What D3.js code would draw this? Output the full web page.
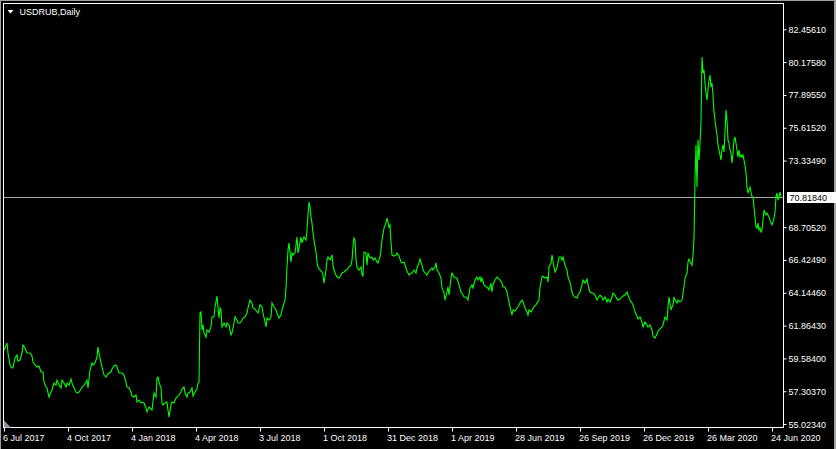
<!DOCTYPE html>
<html><head><meta charset="utf-8">
<script src="https://cdn.jsdelivr.net/npm/d3@7/dist/d3.min.js"></script>
<style>html,body{margin:0;padding:0;background:#000;overflow:hidden}svg{display:block}</style>
</head><body>
<script>
// ---------- data ----------
const symbolTitle = "USDRUB,Daily";
const lastPrice = 70.8184;
// [trading-day index, close]
const closes = [
[0,60.17],[3,60.66],[4,59.96],[6,59.13],[8,58.92],[9,58.92],[11,59.61],[13,59.82],[14,59.40],[16,59.47],[18,59.96],[19,60.52],[21,60.31],[23,59.96],[26,59.96],[28,59.75],[29,59.33],[31,59.13],[33,58.99],[35,59.06],[37,58.64],[39,58.64],[40,57.94],[42,57.60],[43,57.53],[45,56.90],[47,57.25],[48,57.39],[50,57.87],[52,57.73],[53,58.08],[55,57.73],[57,57.53],[58,58.08],[60,57.87],[62,57.60],[63,57.87],[65,57.73],[67,58.15],[68,57.87],[70,57.53],[72,57.25],[73,57.18],[75,57.25],[77,57.46],[78,57.60],[80,57.73],[82,57.94],[83,58.08],[84,57.53],[86,58.78],[88,59.27],[89,59.13],[91,59.27],[93,59.68],[94,60.38],[95,59.96],[97,59.27],[98,58.99],[100,58.43],[102,58.29],[103,58.43],[105,58.57],[107,58.64],[108,58.85],[110,59.06],[112,59.13],[113,58.99],[115,58.57],[117,58.57],[118,58.57],[120,58.43],[122,57.94],[123,57.60],[125,57.53],[127,57.25],[128,56.97],[130,56.90],[132,57.04],[133,56.55],[135,56.69],[137,56.49],[138,56.55],[140,56.49],[142,56.14],[143,55.86],[145,56.21],[147,56.07],[148,56.00],[150,57.18],[152,56.90],[153,58.22],[154,58.29],[155,57.94],[157,57.53],[158,56.49],[159,56.35],[161,56.49],[163,56.55],[164,56.00],[165,55.51],[167,56.35],[168,56.55],[170,56.49],[172,56.83],[173,56.90],[175,57.04],[177,57.25],[178,57.46],[180,57.60],[181,57.18],[183,56.90],[184,57.18],[186,57.25],[188,57.53],[189,56.97],[191,57.25],[193,57.46],[194,57.87],[195,57.90],
[196,62.74],[197,62.81],[198,61.56],[199,61.91],[200,61.35],[202,61.07],[203,61.56],[205,61.42],[207,61.77],[208,62.46],[210,62.46],[211,63.16],[213,63.92],[214,63.09],[215,62.39],[216,63.09],[217,62.95],[218,61.77],[220,62.05],[222,61.77],[223,62.05],[225,61.91],[227,61.21],[228,61.35],[230,62.05],[231,62.46],[233,62.25],[234,62.05],[236,62.05],[238,62.25],[239,62.39],[241,62.46],[243,62.74],[244,63.09],[246,63.64],[248,63.43],[249,63.09],[251,63.02],[253,62.81],[254,62.74],[256,63.30],[258,63.16],[259,62.74],[261,62.12],[262,61.77],[263,62.39],[265,62.25],[267,62.46],[268,63.43],[270,63.16],[272,62.95],[273,62.74],[275,62.39],[277,62.60],[278,62.95],[280,63.43],[281,63.64],[282,64.48],[283,65.94],[284,67.12],[285,67.61],[287,66.28],[288,66.91],[289,66.77],[291,66.91],[293,68.02],[294,66.91],[295,67.26],[297,68.02],[298,67.61],[300,68.02],[302,67.81],[303,68.51],[304,69.55],[305,70.45],[306,70.11],[307,69.41],[308,68.99],[309,68.30],[310,67.81],[312,66.98],[313,66.28],[314,65.94],[316,65.73],[318,65.59],[319,65.38],[320,64.82],[322,65.73],[323,66.42],[324,66.63],[326,66.42],[328,66.77],[329,66.07],[330,65.73],[332,65.38],[333,65.24],[335,65.17],[337,65.38],[338,65.52],[340,65.59],[342,65.73],[343,65.73],[345,65.94],[347,66.07],[348,66.42],[349,67.33],[350,67.95],[351,67.81],[352,66.42],[353,65.94],[355,65.73],[357,65.94],[358,65.38],[359,65.31],[360,66.98],[362,66.91],[363,66.07],[364,66.91],[366,66.56],[368,66.63],[369,66.42],[371,66.56],[373,66.28],[374,66.22],[376,66.63],[377,67.12],[378,67.81],[380,68.64],[382,68.99],[383,69.34],[384,69.06],[385,68.72],[386,68.86],[387,67.67],[388,66.77],[390,66.70],[392,66.77],[393,66.91],[395,66.70],[397,66.28],[398,66.22],[400,66.28],[402,65.87],[403,65.66],[405,65.38],[407,65.52],[408,65.52],[410,65.73],[412,65.52],[413,65.87],[415,66.22],[416,66.49],[418,66.07],[419,65.73],[421,65.52],[423,65.38],[424,65.52],[426,65.73],[428,65.87],[429,65.73],[431,65.94],[432,66.22],[433,65.73],[435,65.52],[437,65.17],[438,64.48],[440,64.13],[441,63.64],[443,64.20],[444,64.55],[445,63.99],[447,65.17],[448,65.52],[450,65.24],[452,65.17],[453,65.17],[455,64.69],[457,64.20],[458,64.13],[460,63.85],[462,63.85],[463,63.78],[464,63.64],[466,64.48],[468,64.69],[469,64.48],[471,65.03],[473,65.24],[474,65.03],[476,65.24],[477,64.89],[478,65.17],[480,64.69],[482,64.55],[483,64.55],[485,64.34],[487,64.82],[488,64.20],[489,64.69],[491,65.03],[493,65.24],[494,65.17],[496,65.03],[498,64.82],[499,64.55],[501,64.55],[503,64.20],[504,63.85],[506,63.16],[508,62.60],[509,62.95],[511,62.88],[513,63.09],[514,63.16],[516,63.43],[518,63.64],[519,63.50],[521,63.09],[523,62.81],[524,62.60],[525,62.95],[527,62.81],[528,62.95],[530,63.16],[532,63.30],[533,63.43],[535,63.64],[536,64.55],[538,65.24],[539,65.31],[541,65.17],[543,65.24],[544,64.89],[545,65.94],[547,66.22],[548,66.77],[550,65.94],[551,65.59],[553,65.87],[554,66.28],[555,66.63],[557,66.63],[558,66.42],[559,66.63],[561,66.07],[563,65.73],[564,65.24],[566,64.89],[568,64.20],[569,63.99],[571,63.85],[573,63.78],[574,63.99],[576,64.20],[578,64.69],[579,65.03],[581,64.82],[583,65.10],[584,64.69],[586,64.20],[588,64.13],[589,64.13],[591,63.99],[593,63.64],[594,63.78],[596,63.99],[598,63.85],[599,63.64],[601,63.85],[603,63.50],[604,63.71],[606,63.50],[608,63.85],[609,64.13],[611,63.99],[613,63.71],[614,63.64],[616,63.71],[618,63.85],[619,63.92],[621,63.99],[623,64.20],[624,63.99],[626,63.64],[628,63.43],[629,63.30],[631,62.81],[633,62.53],[634,62.32],[636,62.46],[638,62.12],[639,61.77],[641,62.12],[643,61.91],[644,61.77],[646,61.91],[648,61.56],[649,61.14],[651,61.00],[653,61.28],[654,61.49],[656,61.63],[658,61.77],[659,61.91],[661,62.46],[663,62.25],[664,63.16],[665,63.85],[667,62.95],[668,63.16],[669,63.30],[670,63.85],[671,63.64],[673,63.43],[674,63.64],[676,63.50],[678,63.64],[679,64.13],[680,64.55],[681,65.17],[683,65.52],[684,66.28],[685,66.49],[687,66.22],[688,66.07],[689,66.77],[690,67.95],
[691,71.98],[692,74.42],[693,71.49],[694,74.76],[695,73.37],[696,74.55],[697,76.00],[698,80.53],[699,79.42],[700,79.63],[701,78.72],[702,78.03],[703,77.54],[704,78.24],[705,78.93],[706,79.28],[707,78.45],[708,78.72],[709,77.89],[710,76.71],[711,76.15],[712,75.60],[713,75.11],[714,74.42],[715,74.07],[716,73.72],[717,73.37],[718,74.07],[719,74.42],[720,73.93],[721,75.32],[722,76.85],[723,76.15],[724,74.76],[725,74.55],[726,74.07],[727,73.86],[728,73.16],[729,73.86],[730,74.76],[731,74.97],[732,74.55],[733,74.07],[734,73.58],[735,74.07],[736,73.58],[737,73.72],[738,73.58],[739,73.72],[740,73.37],[741,73.02],[742,72.47],[743,71.49],[744,71.08],[745,71.29],[746,71.49],[747,71.15],[748,70.80],[749,70.80],[750,70.11],[751,69.41],[752,68.72],[753,68.64],[754,68.99],[755,68.51],[756,68.64],[757,68.37],[758,68.51],[759,69.20],[760,69.90],[761,69.69],[762,69.55],[763,69.69],[764,69.55],[765,69.41],[766,69.20],[767,68.99],[768,68.86],[769,69.06],[770,69.34],[771,69.76],[772,70.80],[773,71.08],[774,70.59],[775,70.80],[776,71.15],[777,70.82]
];
const priceTicks = [82.4561, 80.1758, 77.8955, 75.6152, 73.3349, 68.7052, 66.4249, 64.1446, 61.8643, 59.5840, 57.3037, 55.0234];
const dateTickDays = [0, 64, 128, 192, 256, 320, 384, 448, 512, 576, 640, 704, 768];
const dateTickLabels = ["6 Jul 2017","4 Oct 2017","4 Jan 2018","4 Apr 2018","3 Jul 2018","1 Oct 2018","31 Dec 2018","1 Apr 2019","28 Jun 2019","26 Sep 2019","26 Dec 2019","26 Mar 2020","24 Jun 2020"];

// ---------- layout ----------
const W = 836, H = 449;
const frame = {left: 3.5, top: 3.5, right: 783.5, bottom: 427.5};
const FONT = "'Liberation Sans', Arial, sans-serif";

const svg = d3.select("body").append("svg").attr("width", W).attr("height", H);
svg.append("rect").attr("width", W).attr("height", H).attr("fill", "#000");

// window border
svg.append("line").attr("x1",0).attr("x2",W).attr("y1",0.5).attr("y2",0.5).attr("stroke","#a0a0a0");
svg.append("line").attr("x1",0.5).attr("x2",0.5).attr("y1",0).attr("y2",H).attr("stroke","#a0a0a0");
svg.append("rect").attr("x",W-2).attr("y",0).attr("width",2).attr("height",H).attr("fill","#a0a0a0");

const x = d3.scaleLinear().domain([0, 777]).range([4, 781]);
const y = d3.scaleLinear().domain([54.784, 84.249]).range([frame.bottom, frame.top]);

// frame
svg.append("rect").attr("x",frame.left).attr("y",frame.top)
  .attr("width",frame.right-frame.left).attr("height",frame.bottom-frame.top)
  .attr("fill","none").attr("stroke","#fff").attr("stroke-width",1).attr("shape-rendering","crispEdges");

// shift marker
svg.append("path").attr("d", `M${frame.left+0.5},${frame.bottom-7} L${frame.left+0.5},${frame.bottom} L${frame.left+7.5},${frame.bottom} Z`)
  .attr("fill","#8a9099");

// price line (current bid)
svg.append("line").attr("x1",frame.left).attr("x2",frame.right)
  .attr("y1",Math.round(y(lastPrice))+0.5).attr("y2",Math.round(y(lastPrice))+0.5)
  .attr("stroke","#a8a8a8").attr("stroke-width",1);

// series line
const line = d3.line().x(d => x(d[0])).y(d => y(d[1]));
svg.append("path").datum(closes).attr("d", line)
  .attr("fill","none").attr("stroke","#00ff00").attr("stroke-width",1.1)
  .attr("stroke-linejoin","miter");

// right price axis
const yAxis = d3.axisRight(y).tickValues(priceTicks).tickSize(3).tickPadding(2)
  .tickFormat(d => d3.format(".5f")(d));
const gy = svg.append("g").attr("transform",`translate(${frame.right},0)`).call(yAxis);
gy.select(".domain").remove();
gy.selectAll(".tick line").attr("stroke","#fff");
gy.selectAll(".tick text").attr("fill","#fff").attr("font-family",FONT).attr("font-size","9px")
  .attr("dy","0.33em");

// bottom date axis
const xAxis = d3.axisBottom(x).tickValues(dateTickDays).tickSize(4).tickPadding(2)
  .tickFormat((d,i) => dateTickLabels[i]);
const gx = svg.append("g").attr("transform",`translate(0,${frame.bottom})`).call(xAxis);
gx.select(".domain").remove();
gx.selectAll(".tick line").attr("stroke","#fff");
gx.selectAll(".tick text").attr("fill","#fff").attr("font-family",FONT).attr("font-size","9px")
  .attr("text-anchor","start").attr("x",-1.5).attr("y",13).attr("dy",0);

// current price label
const py = Math.round(y(lastPrice)) + 0.5;
svg.append("rect").attr("x",787).attr("y",py-5.5).attr("width",W-787).attr("height",11).attr("fill","#fff");
svg.append("text").attr("x",789.5).attr("y",py+3.2).attr("fill","#000")
  .attr("font-family",FONT).attr("font-size","9px").text(d3.format(".5f")(lastPrice));

// title
svg.append("path").attr("d","M7.5,10 L13.5,10 L10.5,13.5 Z").attr("fill","#fff");
svg.append("text").attr("x",19.5).attr("y",14.5).attr("fill","#fff")
  .attr("font-family",FONT).attr("font-size","9px").text(symbolTitle);
</script>
</body></html>
